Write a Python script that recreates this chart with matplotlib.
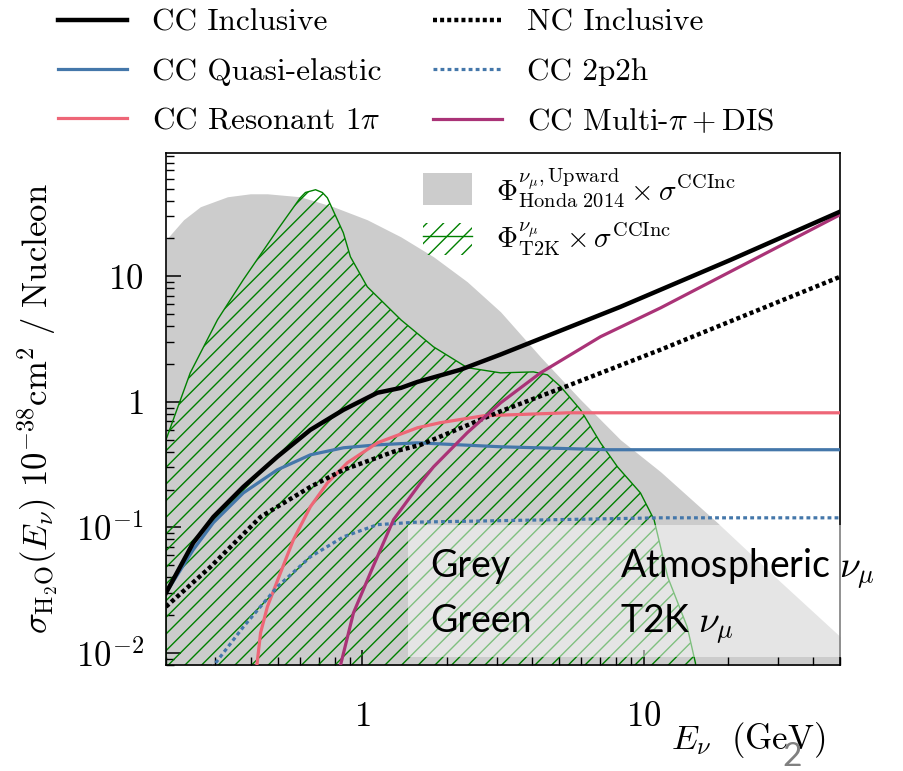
import numpy as np
import matplotlib
matplotlib.use('Agg')
import matplotlib.pyplot as plt
from matplotlib.lines import Line2D
from matplotlib.patches import Patch, Rectangle
from matplotlib.ticker import FixedLocator, FixedFormatter, LogLocator, NullFormatter

plt.rcParams['font.family'] = 'cmr10'
plt.rcParams['mathtext.fontset'] = 'cm'
plt.rcParams['axes.unicode_minus'] = False
plt.rcParams['hatch.linewidth'] = 1.0

# flux x CC inclusive xsec (arbitrary normalisation)
e_honda = [0.2, 0.231, 0.265, 0.331, 0.399, 0.459, 0.601, 0.788, 1.04, 1.37, 1.79, 2.36,
           3.10, 4.30, 5.97, 8.28, 11.5, 18.3, 30.7, 50.2]
phi_honda = [19.5, 28.2, 35.8, 43.0, 45.4, 45.4, 43.0, 35.8, 28.2, 20.6, 14.3, 9.04,
             5.21, 2.28, 1.04, 0.498, 0.277, 0.109, 0.0368, 0.0134]

e_t2k = [0.2, 0.244, 0.305, 0.377, 0.499, 0.601, 0.627, 0.681, 0.72, 0.750, 0.855, 0.906,
         1.04, 1.37, 1.79, 2.36, 3.10, 4.06, 4.55, 5.07, 5.97, 7.03, 8.08, 9.75, 10.9, 12.2,
         14.3, 15.3, 15.6]
phi_t2k = [0.498, 1.70, 4.50, 9.4, 23.5, 42.2, 46.5, 48.9, 46.5, 42.2, 22.2, 14.3,
           8.25, 4.50, 2.74, 1.87, 1.70, 1.73, 1.64, 1.32, 0.863, 0.471, 0.303, 0.188, 0.115, 0.040,
           0.0161, 0.0083, 0.005]

# cross sections, 1e-38 cm^2 / nucleon
e_cc = [0.2, 0.250, 0.295, 0.377, 0.498, 0.653, 0.856, 1.13, 1.37, 1.57, 2.23, 3.10, 8.28, 20.4, 50.0]
xs_cc = [0.030, 0.0752, 0.121, 0.210, 0.365, 0.598, 0.863, 1.18, 1.29, 1.44, 1.80, 2.38, 5.71, 13.5, 32.7]

e_qe = [0.2, 0.250, 0.295, 0.377, 0.498, 0.653, 0.856, 1.13, 1.57, 3.10, 7.46, 50.0]
xs_qe = [0.030, 0.0662, 0.109, 0.188, 0.287, 0.378, 0.430, 0.454, 0.471, 0.438, 0.415, 0.415]

e_res = [0.42, 0.434, 0.459, 0.511, 0.568, 0.653, 0.751, 0.884, 1.13, 1.57, 1.89, 2.70, 5.37, 50.0]
xs_res = [0.0075, 0.0144, 0.0233, 0.0434, 0.0795, 0.146, 0.226, 0.327, 0.471, 0.621, 0.681, 0.774, 0.817, 0.817]

e_nc = [0.2, 0.288, 0.434, 0.653, 0.856, 1.29, 1.61, 3.10, 5.37, 11.5, 50.0]
xs_nc = [0.0233, 0.0484, 0.121, 0.210, 0.287, 0.400, 0.454, 0.84, 1.34, 2.60, 9.9]

e_2p2h = [0.29, 0.377, 0.498, 0.653, 0.856, 1.13, 1.57, 11.5, 50.0]
xs_2p2h = [0.0075, 0.0161, 0.0336, 0.0582, 0.084, 0.105, 0.110, 0.119, 0.119]

e_dis = [0.83, 0.929, 1.09, 1.29, 1.61, 1.79, 2.36, 3.10, 4.30, 7.03, 11.5, 50.0]
xs_dis = [0.0075, 0.0208, 0.0484, 0.115, 0.226, 0.303, 0.567, 0.98, 1.70, 3.30, 5.6, 30.9]

xticks = [1, 10]
xticklabels = ['$1$', '$10$']
yticks = [0.01, 0.1, 1, 10]
yticklabels = ['$10^{-2}$', '$10^{-1}$', '$1$', '$10$']

fig = plt.figure(figsize=(9.04, 7.71), dpi=100)
ax = fig.add_axes([0.1836, 0.1375, 0.7456, 0.6641])

ax.fill_between(e_honda, 1e-4, phi_honda, color='#cccccc', lw=0, zorder=1)
ax.fill_between(e_t2k, 1e-4, phi_t2k, facecolor='none', edgecolor='green', hatch='//', lw=1, zorder=2)

blue, red, purple = '#4477AA', '#EE6677', '#AA3377'
l_cc, = ax.plot(e_cc, xs_cc, color='k', lw=3.2, zorder=5)
l_qe, = ax.plot(e_qe, xs_qe, color=blue, lw=2.3, zorder=4)
l_res, = ax.plot(e_res, xs_res, color=red, lw=2.3, zorder=4)
l_nc, = ax.plot(e_nc, xs_nc, color='k', lw=3.2, ls=(0, (0.9, 0.7)), zorder=4)
l_2p2h, = ax.plot(e_2p2h, xs_2p2h, color=blue, lw=2.3, ls=(0, (1.2, 1.0)), zorder=4)
l_dis, = ax.plot(e_dis, xs_dis, color=purple, lw=2.3, zorder=4)

ax.set_xscale('log')
ax.set_yscale('log')
ax.set_xlim(0.2, 50)
ax.set_ylim(0.008, 96)

ax.xaxis.set_major_locator(FixedLocator(xticks))
ax.xaxis.set_major_formatter(FixedFormatter(xticklabels))
ax.yaxis.set_major_locator(FixedLocator(yticks))
ax.yaxis.set_major_formatter(FixedFormatter(yticklabels))
for axis in (ax.xaxis, ax.yaxis):
    axis.set_minor_locator(LogLocator(base=10, subs=np.arange(2, 10)))
    axis.set_minor_formatter(NullFormatter())

ax.tick_params(which='both', direction='in', top=False, right=False, labelsize=25)
ax.tick_params(which='major', length=11, width=1.1)
ax.tick_params(which='minor', length=6, width=1.0)
ax.tick_params(axis='x', which='major', pad=26)
ax.tick_params(axis='y', which='major', pad=16)
for s in ax.spines.values():
    s.set_linewidth(1.2)

ax.set_ylabel(r'$\sigma_{\mathrm{H_2O}}(E_\nu)\ 10^{-38}\mathrm{cm}^2\ /\ \mathrm{Nucleon}$',
              fontsize=25, va='center')
ax.yaxis.set_label_coords(-0.19, 0.5)
ax.set_xlabel(r'$E_\nu\ \ (\mathrm{GeV})$', fontsize=25, ha='right', va='center')
ax.xaxis.set_label_coords(0.978, -0.146)

# flux legend inside the axes
flux_handles = [Patch(facecolor='#cccccc', lw=0),
                (Patch(facecolor='none', edgecolor='green', hatch='//', lw=0),
                 Line2D([], [], color='green', lw=1))]
flux_labels = [r'$\Phi^{\nu_\mu,\mathrm{Upward}}_{\mathrm{Honda\ 2014}}\times\sigma^{\mathrm{CCInc}}$',
               r'$\Phi^{\nu_\mu}_{\mathrm{T2K}}\times\sigma^{\mathrm{CCInc}}$']
ax.legend(flux_handles, flux_labels, loc='upper left', bbox_to_anchor=(0.381, 0.975),
          frameon=False, fontsize=21, handlelength=1.7, handleheight=1.3,
          handletextpad=0.8, labelspacing=0.42, borderpad=0, borderaxespad=0)

# channel legend above the axes
handles = [l_cc, l_qe, l_res, l_nc, l_2p2h, l_dis]
labels = ['CC Inclusive', 'CC Quasi-elastic', r'CC Resonant $1\pi$',
          'NC Inclusive', 'CC 2p2h', r'CC Multi-$\pi+$DIS']
fig.legend(handles, labels, loc='upper left', bbox_to_anchor=(58 / 904, 1 - 9 / 771),
           ncol=2, frameon=False, fontsize=22.5, handlelength=2.2, handletextpad=0.8,
           columnspacing=1.67, labelspacing=0.67, borderpad=0, borderaxespad=0)

# colour key box
fig.patches.append(Rectangle((408 / 904, 1 - 657 / 771), 434 / 904, 132 / 771,
                             transform=fig.transFigure, facecolor='white', alpha=0.5,
                             lw=0, zorder=5))
key_kw = dict(family='Lato', fontsize=27, va='baseline', zorder=6)
fig.text(430 / 904, 1 - 577 / 771, 'Grey', **key_kw)
fig.text(430 / 904, 1 - 632 / 771, 'Green', **key_kw)
fig.text(620 / 904, 1 - 577 / 771, r'Atmospheric $\nu_\mu$', **key_kw)
fig.text(620 / 904, 1 - 632 / 771, r'T2K $\nu_\mu$', **key_kw)

fig.text(792 / 904, 1 - 766 / 771, '2', family='Lato', fontsize=24, color='#808080',
         ha='center', va='baseline')

fig.savefig('out.png', dpi=100)
